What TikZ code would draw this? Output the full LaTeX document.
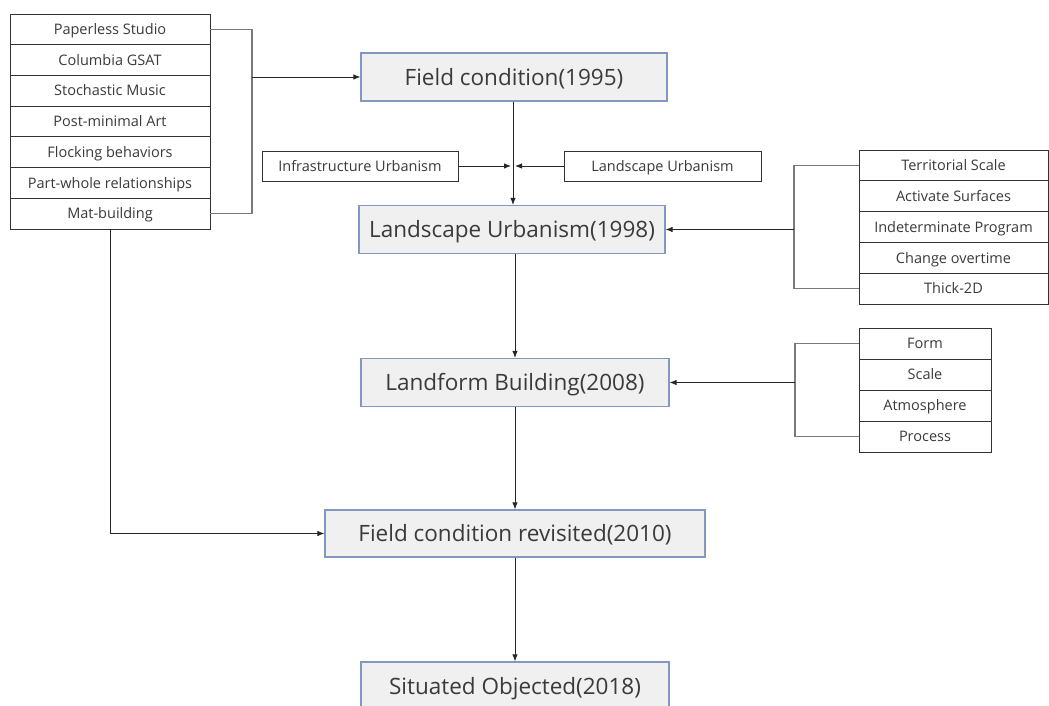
\documentclass[tikz,border=0pt]{standalone}
\usepackage{fontspec}
\setmainfont{Open Sans}
\usetikzlibrary{arrows.meta}
\definecolor{mainfill}{HTML}{F0F0F0}
\definecolor{mainedge}{HTML}{8497C0}
\definecolor{txt}{HTML}{3A3A3A}
\definecolor{brk}{HTML}{7A7A7A}
\begin{document}
\begin{tikzpicture}[x=1pt,y=-1pt,
  mainbox/.style={draw=mainedge, line width=1.2pt, fill=mainfill, text=txt, font=\fontsize{22.5}{26}\selectfont, minimum height=48pt, inner sep=0pt, text height=16.2pt, text depth=0pt},
  itembox/.style={draw=black!80, line width=0.9pt, fill=white, text=txt, font=\fontsize{14.5}{17}\selectfont, inner sep=0pt, text height=10.4pt, text depth=0pt},
  arr/.style={draw=black!85, line width=0.9pt, -{Latex[length=7pt,width=5.5pt]}},
  bracket/.style={draw=brk, line width=1.4pt},
]
\useasboundingbox (0,0) rectangle (1049,706);
\clip (0,0) rectangle (1049,706);

% main boxes
\node[mainbox, minimum width=306pt] (fc) at (514,77) {Field condition(1995)};
\node[mainbox, minimum width=306pt] (lu) at (512,229.5) {Landscape Urbanism(1998)};
\node[mainbox, minimum width=308pt] (lb) at (515,382.5) {Landform Building(2008)};
\node[mainbox, minimum width=380pt, minimum height=47pt] (fr) at (515,533.5) {Field condition revisited(2010)};
\node[mainbox, minimum width=308pt] (so) at (515,686) {Situated Objected(2018)};

% left list
\foreach \t [count=\i] in {Paperless Studio,Columbia GSAT,Stochastic Music,Post-minimal Art,Flocking behaviors,Part-whole relationships,Mat-building}{
  \node[itembox, minimum width=200pt, minimum height=30.7pt] (p\i) at (110,{14+30.71*(\i-0.5)}) {\t};
}

% side boxes
\node[itembox, minimum width=196pt, minimum height=30pt] (iu) at (360,166) {Infrastructure Urbanism};
\node[itembox, minimum width=197pt, minimum height=30pt] (lsu) at (662.5,166) {Landscape Urbanism};

% right list 1
\foreach \t [count=\i] in {Territorial Scale,Activate Surfaces,Indeterminate Program,Change overtime,Thick-2D}{
  \node[itembox, minimum width=189pt, minimum height=30.8pt] (r\i) at (953.5,{150+30.8*(\i-0.5)}) {\t};
}
% right list 2
\foreach \t [count=\i] in {Form,Scale,Atmosphere,Process}{
  \node[itembox, minimum width=132pt, minimum height=31pt] (s\i) at (925,{328+31*(\i-0.5)}) {\t};
}

% left bracket
\coordinate (lbk) at (252,77);
\draw[bracket] (p1.east) -| (lbk) |- (p7.east);
\draw[arr] (lbk) -- (fc.west);

% right bracket 1
\coordinate (rbk) at (794,229.5);
\draw[bracket] (r1.west) -| (rbk) |- (r5.west);
\draw[arr] (rbk) -- (lu.east);

% right bracket 2
\coordinate (sbk) at (795,382.5);
\draw[bracket] (s1.west) -| (sbk) |- (s4.west);
\draw[arr] (sbk) -- (lb.east);

% main spine
\coordinate (j) at (513,166);
\draw[arr] (fc.south -| j) -- (lu.north -| j);
\draw[arr] (iu.east) -- ([xshift=-2pt]j);
\draw[arr] (lsu.west) -- ([xshift=2pt]j);
\draw[arr] (lu.south -| lb) -- (lb.north);
\draw[arr] (lb.south) -- (lb.south |- fr.north);
\draw[arr] (fr.south) -- (fr.south |- so.north);

% mat-building to revisited
\draw[arr] (p7.south) |- (fr.west);
\end{tikzpicture}
\end{document}
